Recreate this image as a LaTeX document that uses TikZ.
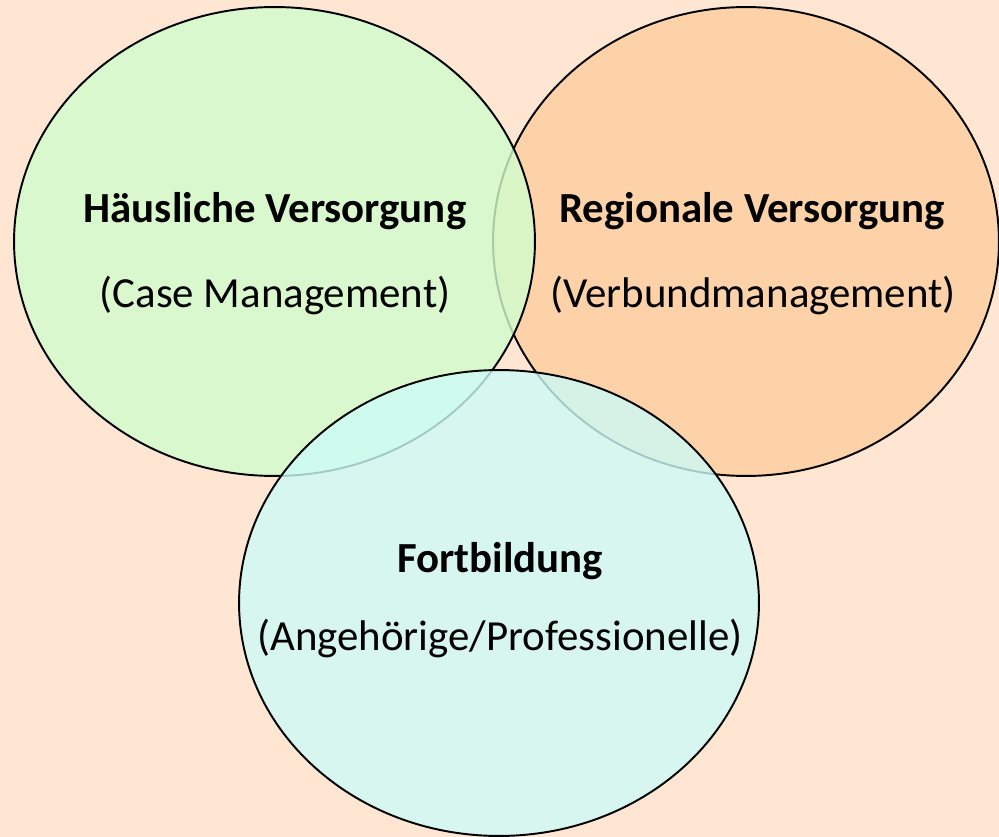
\documentclass[tikz,border=0pt]{standalone}
\usepackage{fontspec}
\setmainfont{Carlito}
\usetikzlibrary{shapes.geometric}

\definecolor{hintergrund}{RGB}{254,230,210}
\definecolor{gruen}{RGB}{208,253,205}
\definecolor{apricot}{RGB}{253,205,158}
\definecolor{tuerkis}{RGB}{205,251,247}

\begin{document}
\begin{tikzpicture}[x=0.02cm, y=-0.02cm,
    bereich/.style={ellipse, draw=black, line width=1.1pt, fill opacity=0.8, inner sep=0pt},
    titel/.style={font=\fontsize{24.4}{29}\selectfont\bfseries, anchor=base},
    untertitel/.style={font=\fontsize{24.4}{29}\selectfont, anchor=base}]
  % Hintergrund
  \fill[hintergrund] (0,0) rectangle (999,837);
  \useasboundingbox (0,0) rectangle (999,837);

  % Drei Bereiche, der spaetere liegt oben
  \foreach \name/\x/\y/\w/\h/\farbe in {regional/746/241.5/10.12/9.38/apricot,
      haeuslich/274.5/241.5/10.42/9.38/gruen, fortbildung/499/603/10.4/9.32/tuerkis} {
    \node[bereich, fill=\farbe, minimum width=\w cm, minimum height=\h cm] (\name) at (\x,\y) {};
  }

  % Beschriftung
  \node[titel] (haeuslich-titel) at (275,223) {Häusliche Versorgung};
  \node[untertitel] (haeuslich-text) at (275,308) {(Case Management)};
  \node[titel] (regional-titel) at (752,223) {Regionale Versorgung};
  \node[untertitel] (regional-text) at (753,308) {(Verbundmanagement)};
  \node[titel] (fortbildung-titel) at (500,572) {Fortbildung};
  \node[untertitel] (fortbildung-text) at (500,650) {(Angehörige/Professionelle)};

\end{tikzpicture}
\end{document}
